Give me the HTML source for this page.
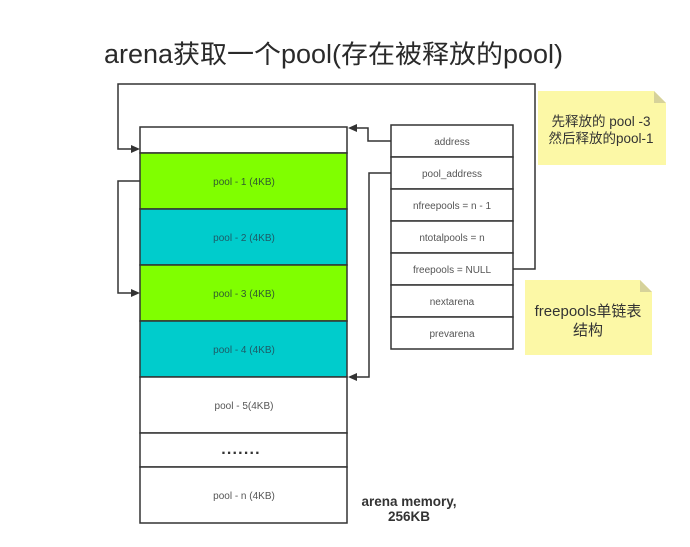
<!DOCTYPE html>
<html><head><meta charset="utf-8"><style>
html,body{margin:0;padding:0;background:#fff;}
svg{display:block;}
text{font-family:"Liberation Sans","Noto Sans CJK SC",sans-serif;}
</style></head><body>
<svg width="690" height="547" viewBox="0 0 690 547" xmlns="http://www.w3.org/2000/svg">
<rect width="690" height="547" fill="#fff"/>
<text x="104" y="63" font-size="25.5" fill="#2a2a2a" textLength="459" lengthAdjust="spacingAndGlyphs">arena获取一个pool(存在被释放的pool)</text>

<!-- arena box rows -->
<g stroke="#333" stroke-width="1.5">
<rect x="140" y="127" width="207" height="26" fill="#fff"/>
<rect x="140" y="153" width="207" height="56" fill="#80ff00"/>
<rect x="140" y="209" width="207" height="56" fill="#00cccc"/>
<rect x="140" y="265" width="207" height="56" fill="#80ff00"/>
<rect x="140" y="321" width="207" height="56" fill="#00cccc"/>
<rect x="140" y="377" width="207" height="56" fill="#fff"/>
<rect x="140" y="433" width="207" height="34" fill="#fff"/>
<rect x="140" y="467" width="207" height="56" fill="#fff"/>
</g>
<g font-size="10" text-anchor="middle">
<text x="244" y="185" fill="#2f5a2f">pool - 1  (4KB)</text>
<text x="244" y="241" fill="#1e5a66">pool - 2 (4KB)</text>
<text x="244" y="297" fill="#2f5a2f">pool - 3 (4KB)</text>
<text x="244" y="353" fill="#1e5a66">pool - 4 (4KB)</text>
<text x="244" y="409" fill="#555">pool - 5(4KB)</text>
<text x="241" y="454" fill="#333" font-size="16" font-weight="bold" letter-spacing="1.2">.......</text>
<text x="244" y="499" fill="#555">pool   - n (4KB)</text>
</g>
<g font-size="13.5" font-weight="bold" fill="#333" text-anchor="middle">
<text x="409" y="506">arena memory,</text>
<text x="409" y="521">256KB</text>
</g>

<!-- struct box -->
<g stroke="#333" stroke-width="1.5" fill="#fff">
<rect x="391" y="125" width="122" height="32"/>
<rect x="391" y="157" width="122" height="32"/>
<rect x="391" y="189" width="122" height="32"/>
<rect x="391" y="221" width="122" height="32"/>
<rect x="391" y="253" width="122" height="32"/>
<rect x="391" y="285" width="122" height="32"/>
<rect x="391" y="317" width="122" height="32"/>
</g>
<g font-size="10" fill="#555" text-anchor="middle">
<text x="452" y="145">address</text>
<text x="452" y="177">pool_address</text>
<text x="452" y="209">nfreepools = n - 1</text>
<text x="452" y="241">ntotalpools = n</text>
<text x="452" y="273">freepools = NULL</text>
<text x="452" y="305">nextarena</text>
<text x="452" y="337">prevarena</text>
</g>

<!-- connectors -->
<g stroke="#333" stroke-width="1.5" fill="none">
<polyline points="513,269 535,269 535,84 118,84 118,149 133,149"/>
<polyline points="140,181 118,181 118,293 133,293"/>
<polyline points="391,141 368,141 368,128 355,128"/>
<polyline points="391,173 369,173 369,377 355,377"/>
</g>
<g fill="#333">
<polygon points="140,149 131,145 131,153"/>
<polygon points="140,293 131,289 131,297"/>
<polygon points="348,128 357,124 357,132"/>
<polygon points="348,377 357,373 357,381"/>
</g>

<!-- note 1 -->
<polygon points="538,91 654,91 666,103 666,165 538,165" fill="#fcf8a6"/>
<polygon points="654,91 666,103 654,103" fill="#d6d29a"/>
<g font-size="13.5" fill="#333" text-anchor="middle">
<text x="601" y="126">先释放的 pool -3</text>
<text x="601" y="143">然后释放的pool-1</text>
</g>

<!-- note 2 -->
<polygon points="525,280 640,280 652,292 652,355 525,355" fill="#fcf8a6"/>
<polygon points="640,280 652,292 640,292" fill="#d6d29a"/>
<g font-size="15" fill="#333" text-anchor="middle">
<text x="588" y="316">freepools单链表</text>
<text x="588" y="335">结构</text>
</g>
</svg>
</body></html>
